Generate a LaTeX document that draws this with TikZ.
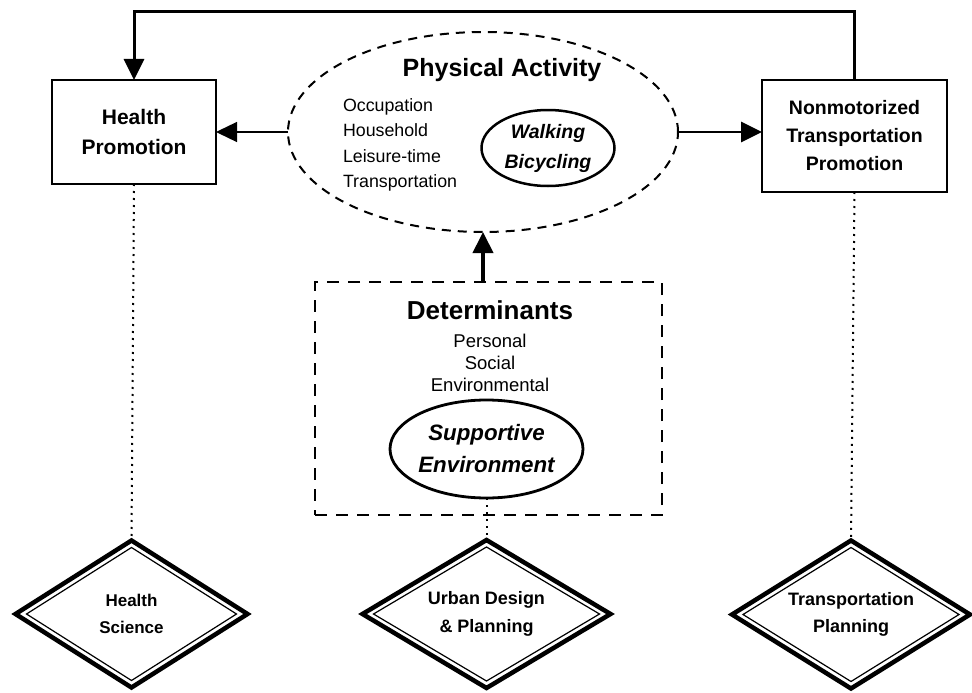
\documentclass[tikz,border=0pt]{standalone}
\usepackage{fontspec}
\setmainfont{Liberation Sans}
\usetikzlibrary{shapes.geometric}
\usetikzlibrary{
        arrows.meta,
    }

\newcommand{\fsz}[2]{\fontsize{#1}{#2}\selectfont}

\begin{document}
\begin{tikzpicture}[x=1pt,y=-1pt,
        every node/.style={inner sep=0pt,outer sep=0pt,align=center},
        box/.style={draw,rectangle,line width=2.8pt},
        ring/.style={draw,ellipse,line width=2.5pt},
        discipline/.style={draw,diamond,shape aspect=1.6,line width=4.5pt},
        headarrow/.style={-{Triangle[length=21pt,width=20pt]}},
        dotline/.style={line width=2pt,dash pattern=on 2pt off 5pt}]
        \useasboundingbox (0,0) rectangle (972,693);
        \begin{scope}
            % promotion boxes
            \node[box,minimum width=164pt,minimum height=104pt,font=\fsz{21}{30}\bfseries] (hp) at (134,132) {Health\\Promotion};
            \node[box,minimum width=185pt,minimum height=112pt,font=\fsz{19.5}{28}\bfseries] (np) at (854.5,136) {Nonmotorized\\Transportation\\Promotion};
            % physical activity
            \node[draw,ellipse,line width=2pt,dash pattern=on 9pt off 7pt,minimum width=390pt,minimum height=200pt] (pa) at (483,132) {};
            \node[font=\fsz{25}{25}\bfseries] (patitle) at (502,70) {Physical Activity};
            \node[anchor=west,align=left,font=\fsz{17.8}{25.3}] (palist) at (343,145) {Occupation\\Household\\Leisure-time\\Transportation};
            \node[ring,minimum width=133pt,minimum height=76pt,font=\fsz{19.5}{30}\bfseries\itshape] (wb) at (548,148) {Walking\\Bicycling};
            % determinants
            \node[draw,line width=2.6pt,dash pattern=on 12pt off 9pt,minimum width=347pt,minimum height=233pt] (det) at (488.5,398.5) {};
            \node[font=\fsz{26}{26}\bfseries] (dettitle) at (490,310) {Determinants};
            \node[font=\fsz{18.5}{22}] (detlist) at (490,363) {Personal\\Social\\Environmental};
            \node[ring,line width=2.8pt,minimum width=193pt,minimum height=98pt,font=\fsz{22.3}{32}\bfseries\itshape] (se) at (486.5,449) {Supportive\\Environment};
            % disciplines
            \node[discipline,minimum width=232pt,minimum height=147pt,font=\fsz{17}{27}\bfseries] (hs) at (131.5,614) {Health\\Science};
            \node[discipline,minimum width=248pt,minimum height=148pt,font=\fsz{18}{28}\bfseries] (ud) at (486.5,614) {Urban Design\\\& Planning};
            \node[discipline,minimum width=238pt,minimum height=148pt,font=\fsz{18}{27}\bfseries] (tp) at (851,614.5) {Transportation\\Planning};
            \foreach \d in {hs,ud,tp}
                \draw[line width=1.2pt] ([yshift=-7pt]\d.north) -- ([xshift=-11pt]\d.east) -- ([yshift=7pt]\d.south) -- ([xshift=11pt]\d.west) -- cycle;
            % connectors
            \draw[line width=3pt,headarrow] (np.north) -- ++(0,-68) -| (hp.north);
            \draw[line width=1.3pt,headarrow] (pa.west) -- (hp.east);
            \draw[line width=2.8pt,headarrow] (pa.east) -- (np.west |- pa.east);
            \draw[line width=4pt,headarrow] (pa.south |- det.north) -- (pa.south);
            \draw[dotline] (hp.south) -- (hs.north);
            \draw[dotline] (np.south) -- (tp.north);
            \draw[dotline] (se.south) -- (ud.north);
        \end{scope}
    \end{tikzpicture}
\end{document}
